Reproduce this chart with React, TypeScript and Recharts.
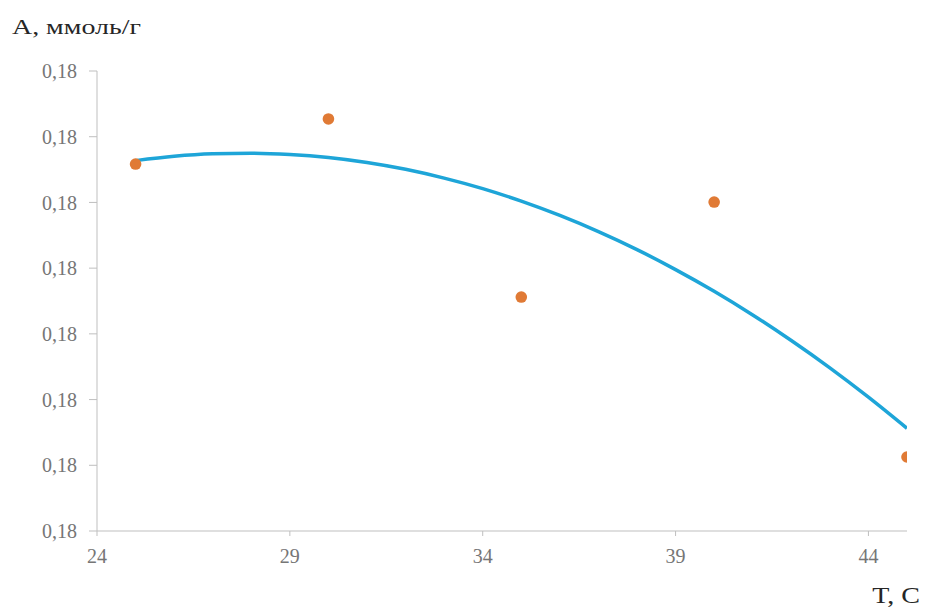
import React from 'react';
import { ComposedChart, Line, Scatter, XAxis, YAxis } from 'recharts';

// Measured points (T, A)
const tempPoints = [25, 30, 35, 40, 45];
const adsorption = [0.180792, 0.181135, 0.17978, 0.180503, 0.178563];

// Trend curve at each degree from 25 to 45
const trendT = [25, 26, 27, 28, 29, 30, 31, 32, 33, 34, 35, 36, 37, 38, 39, 40, 41, 42, 43, 44, 45];
const trendA = [
  0.180818, 0.180851, 0.18087, 0.180875, 0.180865, 0.180842, 0.180804, 0.180752, 0.180685, 0.180605,
  0.18051, 0.180401, 0.180278, 0.180141, 0.179989, 0.179824, 0.179644, 0.179449, 0.179241, 0.179018, 0.178781,
];

const xTicks = [24, 29, 34, 39, 44];
const yTicks = [0.178, 0.1785, 0.179, 0.1795, 0.18, 0.1805, 0.181, 0.1815];

const yTitle = 'A, ммоль/г';
const xTitle = 'T, C';

const pointData = tempPoints.map((t, i) => ({ t, a: adsorption[i] }));
const trendData = trendT.map((t, i) => ({ t, a: trendA[i] }));

const fmt = (v: number) => v.toFixed(2).replace('.', ',');

const FONT = '"Liberation Serif", "Times New Roman", serif';

export default function App() {
  return (
    <div style={{ position: 'absolute', left: 0, top: 0, width: 926, height: 610, background: '#fff' }}>
      <ComposedChart
        width={926}
        height={610}
        margin={{ top: 71, right: 19, bottom: 49, left: 0 }}
      >
        <XAxis
          type="number"
          dataKey="t"
          domain={[24, 45]}
          ticks={xTicks}
          allowDataOverflow
          stroke="#bfbfbf"
          tickSize={5}
          tickMargin={13}
          height={30}
          tick={{ fill: '#767676', fontSize: 20, fontFamily: FONT }}
          label={{
            content: (p: any) => {
              const vb = p.viewBox || { x: 97, y: 531, width: 810 };
              return (
                <text
                  transform={`translate(${vb.x + vb.width + 13},${603}) scale(1.22,1)`}
                  textAnchor="end"
                  fill="#262626"
                  fontSize={23}
                  fontFamily={FONT}
                >
                  {xTitle}
                </text>
              );
            },
          }}
        />
        <YAxis
          type="number"
          dataKey="a"
          domain={[0.178, 0.1815]}
          ticks={yTicks}
          allowDataOverflow
          width={97}
          stroke="#bfbfbf"
          tickSize={8}
          tickMargin={12}
          tickFormatter={fmt}
          tick={{ fill: '#767676', fontSize: 20, fontFamily: FONT }}
          label={{
            content: (p: any) => {
              const vb = p.viewBox || { x: 0, y: 71 };
              return (
                <text
                  transform={`translate(${vb.x + 12},${vb.y - 37}) scale(1.27,1)`}
                  textAnchor="start"
                  fill="#262626"
                  fontSize={22}
                  fontFamily={FONT}
                >
                  {yTitle}
                </text>
              );
            },
          }}
        />
        <Line
          data={trendData}
          dataKey="a"
          type="monotone"
          stroke="#1ea5d8"
          strokeWidth={3.5}
          dot={false}
          activeDot={false}
          isAnimationActive={false}
        />
        <Scatter
          data={pointData}
          dataKey="a"
          fill="#e07a35"
          shape={(p: any) => <circle cx={p.cx} cy={p.cy} r={5.8} fill="#e07a35" />}
          isAnimationActive={false}
        />
      </ComposedChart>
    </div>
  );
}
